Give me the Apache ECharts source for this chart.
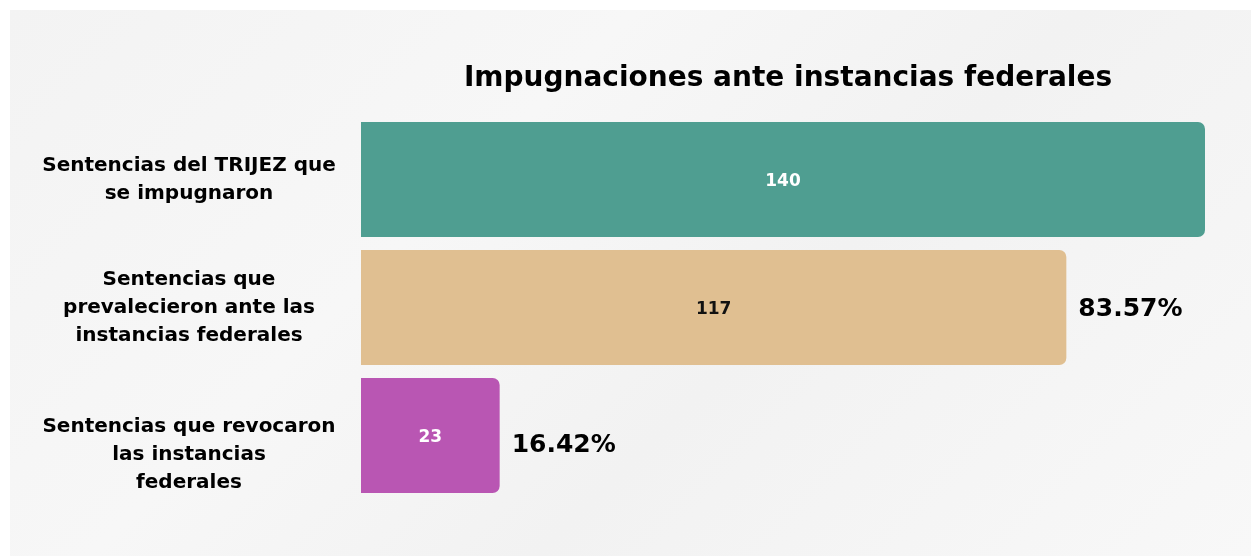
<!DOCTYPE html>
<html>
<head>
<meta charset="utf-8">
<script src="https://cdn.jsdelivr.net/npm/echarts@6/dist/echarts.min.js"></script>
<style>
  html, body { margin: 0; padding: 0; background: #ffffff; }
  .bg {
    position: absolute; left: 10px; top: 10px; width: 1241px; height: 546px;
    background: linear-gradient(135deg, #f3f3f3 0%, #f7f7f7 35%, #f2f2f2 60%, #f8f8f8 100%);
  }
  #chart { position: absolute; left: 0; top: 0; width: 1251px; height: 556px; }
</style>
</head>
<body>
<div class="bg"></div>
<div id="chart"></div>
<script>
// datos del gráfico
const categories = [
  'Sentencias del TRIJEZ que\nse impugnaron',
  'Sentencias que\nprevalecieron ante las\ninstancias federales',
  'Sentencias que revocaron\nlas instancias\nfederales',
]
const values = [140, 117, 23]
const percents = ['', '83.57%', '16.42%']
const barColors = ['#4f9e91', '#e0bf91', '#b956b3']
const valueLabelColors = ['#ffffff', '#111111', '#ffffff']
const percentOffsets = [0, 2, 10]

const FONT = '"DejaVu Sans", sans-serif'

const chart = echarts.init(document.getElementById('chart'))

chart.setOption({
  animation: false,
  title: {
    text: 'Impugnaciones ante instancias federales',
    left: 783,
    top: 60,
    textAlign: 'center',
    textStyle: { fontFamily: FONT, fontWeight: 'bold', fontSize: 28, color: '#000' },
  },
  grid: { left: 361, top: 115.5, width: 844, height: 384 },
  xAxis: {
    type: 'value',
    min: 0,
    max: 140,
    show: false,
  },
  yAxis: {
    type: 'category',
    inverse: true,
    data: categories,
    axisLine: { show: false },
    axisTick: { show: false },
    splitLine: { show: false },
    axisLabel: {
      margin: 172,
      align: 'center',
      fontFamily: FONT,
      fontWeight: 'bold',
      fontSize: 20,
      lineHeight: 28,
      color: '#000',
      formatter: (v, i) => (i === 2 ? '{gap|}\n' + v : v),
      rich: { gap: { height: 38, lineHeight: 38 } },
    },
  },
  series: [
    {
      name: 'Sentencias',
      type: 'bar',
      barWidth: 115,
      data: values.map((v, i) => ({
        value: v,
        itemStyle: { color: barColors[i], borderRadius: [0, 7, 7, 0] },
        label: { color: valueLabelColors[i] },
      })),
      label: {
        show: true,
        position: 'inside',
        offset: [0, 2],
        fontFamily: FONT,
        fontWeight: 'bold',
        fontSize: 17,
      },
      z: 2,
    },
    {
      name: 'Porcentaje',
      type: 'bar',
      barWidth: 115,
      barGap: '-100%',
      data: values.map((v, i) => ({
        value: v,
        label: { offset: [0, percentOffsets[i]] },
      })),
      itemStyle: { color: 'transparent' },
      label: {
        show: true,
        position: 'right',
        distance: 12,
        fontFamily: FONT,
        fontWeight: 'bold',
        fontSize: 25,
        color: '#000',
        formatter: p => percents[p.dataIndex],
      },
      silent: true,
      z: 3,
    },
  ],
})
</script>
</body>
</html>
